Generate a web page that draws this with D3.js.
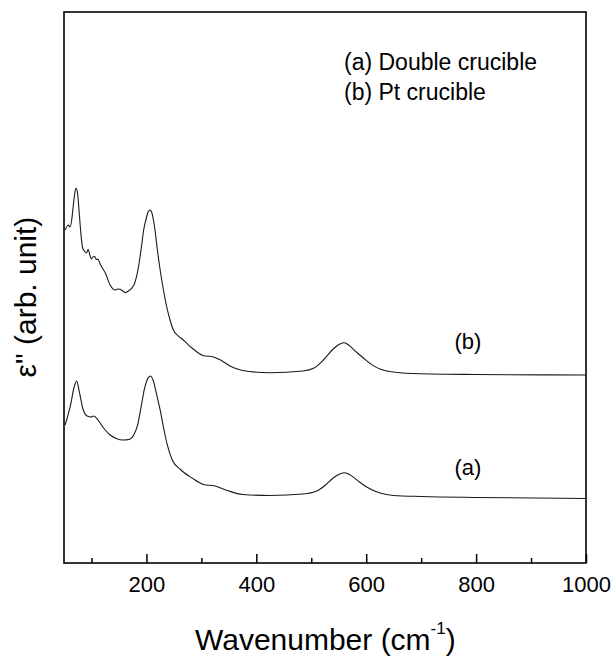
<!DOCTYPE html>
<html>
<head>
<meta charset="utf-8">
<script src="https://cdn.jsdelivr.net/npm/d3@7"></script>
<style>
    body { margin: 0; background: #fff; }
    text { font-family: Arial, "Liberation Sans", sans-serif; fill: #000; }
</style>
</head>
<body>
<div id="chart"></div>
<script>
// wavenumber (cm-1) and eps'' (arb. unit)
const wnA = [52, 62, 68, 73, 78, 84, 92, 99, 104, 112, 122, 134, 145, 158, 168, 177, 184, 190, 196, 202, 207, 212, 218, 225, 232, 238, 247, 262, 283, 304, 325, 347, 375, 425, 485, 510, 525, 540, 552, 561, 572, 585, 600, 625, 650, 700, 800, 1000];
const epsA = [25.05, 28.68, 31.76, 33.03, 31.03, 28.13, 26.68, 26.5, 26.68, 25.95, 24.5, 23.23, 22.6, 22.32, 22.41, 23.23, 25.05, 28.13, 31.4, 33.39, 33.94, 33.21, 30.85, 27.77, 24.14, 21.42, 18.69, 16.97, 15.43, 14.25, 13.97, 13.16, 12.43, 12.25, 12.52, 13.07, 14.07, 15.43, 16.15, 16.39, 15.9, 14.9, 13.85, 12.7, 12.25, 12.07, 11.89, 11.71];

const wnB = [52, 56, 58, 61, 64, 67, 70, 72, 75, 78, 81, 84, 88, 91, 94, 97, 100, 103, 106, 109, 112, 115, 119, 125, 134, 143, 148, 152, 157, 161, 167, 173, 178, 182, 187, 191, 195, 199, 203, 206.5, 210, 215.6, 220, 225, 231, 237, 243, 249, 258, 267, 285, 303, 322, 335, 352, 375, 425, 485, 505, 522, 540, 552, 560, 570, 582, 595, 610, 625, 645, 661, 716, 800, 1000];
const epsB = [60.44, 61.16, 61.34, 60.98, 62.25, 64.97, 67.36, 68.0, 66.79, 63.16, 59.53, 57.17, 56.5, 56.26, 56.93, 55.9, 55.17, 55.59, 55.63, 55.08, 55.12, 54.45, 53.67, 52.69, 50.45, 49.55, 49.73, 49.67, 49.36, 49.06, 49.36, 49.85, 50.64, 51.96, 54.63, 57.4, 60.44, 62.25, 63.7, 64.07, 63.52, 60.44, 56.81, 53.18, 49.55, 46.46, 44.1, 42.29, 41.2, 40.47, 38.84, 37.66, 37.39, 36.84, 35.75, 34.94, 34.54, 34.85, 35.39, 36.84, 38.84, 39.75, 39.98, 39.4, 38.3, 37.2, 36.0, 35.2, 34.7, 34.54, 34.3, 34.21, 34.12];

const majorTicks = [200, 400, 600, 800, 1000];
const minorTicks = [100, 300, 500, 700, 900];
const legendLines = ["(a) Double crucible", "(b) Pt crucible"];
const curveTags = [{label: "(a)", wn: 785, eps: 16.0}, {label: "(b)", wn: 785, eps: 38.8}];

const render = () => {
    const width = 613;
    const height = 658;
    const m = {left: 64, top: 12, right: 27, bottom: 95};
    const w = width - m.left - m.right;
    const h = height - m.top - m.bottom;

    let svg = d3.select("#chart").append("svg")
        .attr("width", width)
        .attr("height", height);

    const x = d3.scaleLinear().domain([50, 1000]).range([m.left, m.left + w]);
    const y = d3.scaleLinear().domain([0, 100]).range([m.top + h, m.top]);

    const line = d3.line()
        .x(d => x(d[0]))
        .y(d => y(d[1]))
        .curve(d3.curveMonotoneX);

    const series = [d3.zip(wnA, epsA), d3.zip(wnB, epsB)];

    svg.append("g")
        .attr("fill", "none")
        .attr("stroke", "#1a1a1a")
        .attr("stroke-width", 1.1)
        .selectAll("path")
        .data(series)
        .join("path")
        .attr("d", line);

    // inward ticks on the bottom only
    const major = svg.append("g")
        .attr("transform", `translate(0,${m.top + h})`)
        .call(d3.axisBottom(x).tickValues(majorTicks).tickSize(-9).tickPadding(13).tickFormat(d3.format("d")));
    major.select(".domain").remove();
    major.selectAll("line").attr("stroke", "#000").attr("stroke-width", 1.5);
    major.selectAll("text").attr("font-size", 22).style("font-family", "Arial, 'Liberation Sans', sans-serif");

    const minor = svg.append("g")
        .attr("transform", `translate(0,${m.top + h})`)
        .call(d3.axisBottom(x).tickValues(minorTicks).tickSize(-5).tickFormat(""));
    minor.select(".domain").remove();
    minor.selectAll("line").attr("stroke", "#000").attr("stroke-width", 1.5);

    svg.append("rect")
        .attr("x", m.left)
        .attr("y", m.top)
        .attr("width", w)
        .attr("height", h)
        .attr("fill", "none")
        .attr("stroke", "#000")
        .attr("stroke-width", 1.6);

    svg.append("g")
        .selectAll("text")
        .data(legendLines)
        .join("text")
        .attr("x", 344)
        .attr("y", (d, i) => 70 + i * 30)
        .attr("font-size", 23)
        .text(d => d);

    svg.append("g")
        .selectAll("text")
        .data(curveTags)
        .join("text")
        .attr("x", d => x(d.wn))
        .attr("y", d => y(d.eps))
        .attr("text-anchor", "middle")
        .attr("font-size", 22)
        .text(d => d.label);

    svg.append("text")
        .attr("transform", "translate(36,297) rotate(-90)")
        .attr("text-anchor", "middle")
        .attr("font-size", 30)
        .text("ε\" (arb. unit)");

    const xl = svg.append("text")
        .attr("x", 195)
        .attr("y", 650)
        .attr("font-size", 30);
    xl.append("tspan").text("Wavenumber (cm");
    xl.append("tspan").attr("font-size", 17).attr("dy", -16).text("-1");
    xl.append("tspan").attr("dy", 16).text(")");
}

render();
</script>
</body>
</html>
